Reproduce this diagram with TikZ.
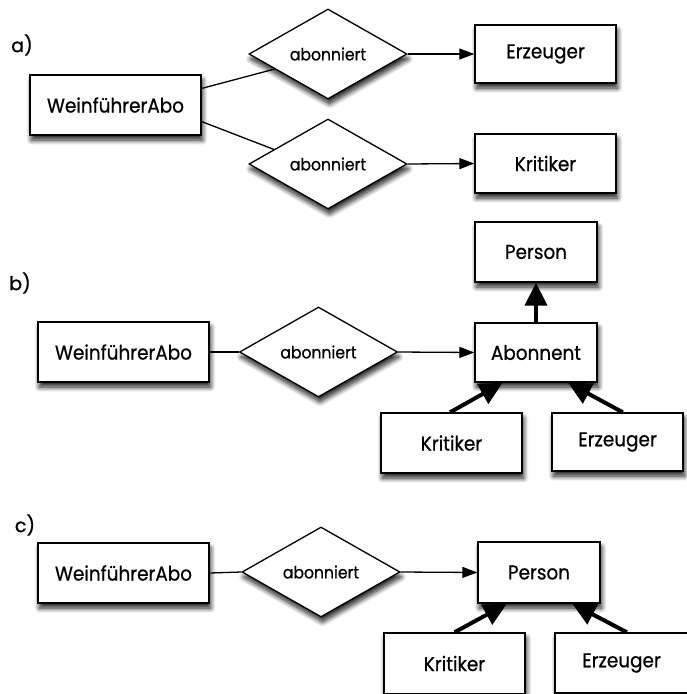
\documentclass[tikz,border=0pt]{standalone}
\usepackage{fontspec}
\setmainfont{Poppins}
\newfontfamily\narrowfont[FakeStretch=0.92,FakeBold=0.7]{Poppins}
\newfontfamily\labelfont[FakeBold=1]{Poppins}
\usetikzlibrary{shapes.geometric,arrows.meta,calc,shadows.blur}

\tikzset{
  shade/.style={blur shadow={shadow xshift=1.5pt, shadow yshift=-5pt,
      shadow blur radius=5pt, shadow blur steps=10, shadow opacity=90}},
  ent/.style={draw, line width=1.4pt, fill=white, inner sep=0pt, shade,
      font=\narrowfont\fontsize{20}{24}\selectfont},
  rel/.style={diamond, draw, line width=1.3pt, fill=white, inner sep=0pt,
      minimum width=158pt, minimum height=90pt, shade,
      font=\narrowfont\fontsize{17}{20}\selectfont},
  conn/.style={line width=1.3pt},
  arr/.style={conn, -{Triangle[length=15pt,width=11pt]}},
  isa/.style={line width=4pt, -{Triangle[length=23pt,width=22pt]}},
  lbl/.style={font=\labelfont\fontsize{19}{22}\selectfont}
}

\begin{document}
\begin{tikzpicture}[x=1pt, y=-1pt]
\useasboundingbox (0,0) rectangle (687,694);

% --- a) two separate relationships
\node[lbl] (la) at (22,45) {a)};
\node[ent, minimum width=171pt, minimum height=60pt] (wa) at (115.5,105) {WeinführerAbo};
\node[rel] (ra1) at (328,54) {abonniert};
\node[rel] (ra2) at (328,164) {abonniert};
\node[ent, minimum width=141pt, minimum height=58pt] (ea) at (545.5,54) {Erzeuger};
\node[ent, minimum width=141pt, minimum height=59pt] (ka) at (545.5,163.5) {Kritiker};

\draw[conn] ($(wa.north east)!0.23!(wa.south east)$) -- ($(ra1.west)!0.33!(ra1.south)$);
\draw[conn] ($(wa.north east)!0.77!(wa.south east)$) -- ($(ra2.west)!0.32!(ra2.north)$);
\draw[arr] (ra1.east) -- (ea.west);
\draw[arr] (ra2.east) -- (ka.west);

% --- b) common subtype Abonnent below Person
\node[lbl] (lb) at (20,283) {b)};
\node[ent, minimum width=171pt, minimum height=60pt] (wb) at (123.5,352) {WeinführerAbo};
\node[rel] (rb) at (318.5,352) {abonniert};
\node[ent, minimum width=122pt, minimum height=60pt] (pb) at (536,252) {Person};
\node[ent, minimum width=122pt, minimum height=59pt] (ab) at (536,352.5) {Abonnent};
\node[ent, minimum width=141pt, minimum height=60pt] (kb) at (451.5,443) {Kritiker};
\node[ent, minimum width=131pt, minimum height=58pt] (eb) at (617.5,442) {Erzeuger};

\draw[conn] (wb.east) -- (rb.west);
\draw[arr] (rb.east) -- (ab.west);
\draw[isa] (ab.north) -- (pb.south);
\draw[isa] ($(kb.north west)!0.49!(kb.north east)$) -- ($(ab.south west)!0.23!(ab.south east)$);
\draw[isa] ($(eb.north west)!0.54!(eb.north east)$) -- ($(ab.south west)!0.76!(ab.south east)$);

% --- c) relationship directly to Person
\node[lbl] (lc) at (25,525) {c)};
\node[ent, minimum width=171pt, minimum height=60pt] (wc) at (123.5,573) {WeinführerAbo};
\node[rel] (rc) at (321,572) {abonniert};
\node[ent, minimum width=122pt, minimum height=61pt] (pc) at (539,572.5) {Person};
\node[ent, minimum width=141pt, minimum height=61pt] (kc) at (454.5,663.5) {Kritiker};
\node[ent, minimum width=133pt, minimum height=60pt] (ec) at (621.5,663) {Erzeuger};

\draw[conn] (wc.east) -- (rc.west);
\draw[arr] (rc.east) -- (pc.west);
\draw[isa] ($(kc.north west)!0.50!(kc.north east)$) -- ($(pc.south west)!0.24!(pc.south east)$);
\draw[isa] ($(ec.north west)!0.54!(ec.north east)$) -- ($(pc.south west)!0.77!(pc.south east)$);
\end{tikzpicture}
\end{document}
